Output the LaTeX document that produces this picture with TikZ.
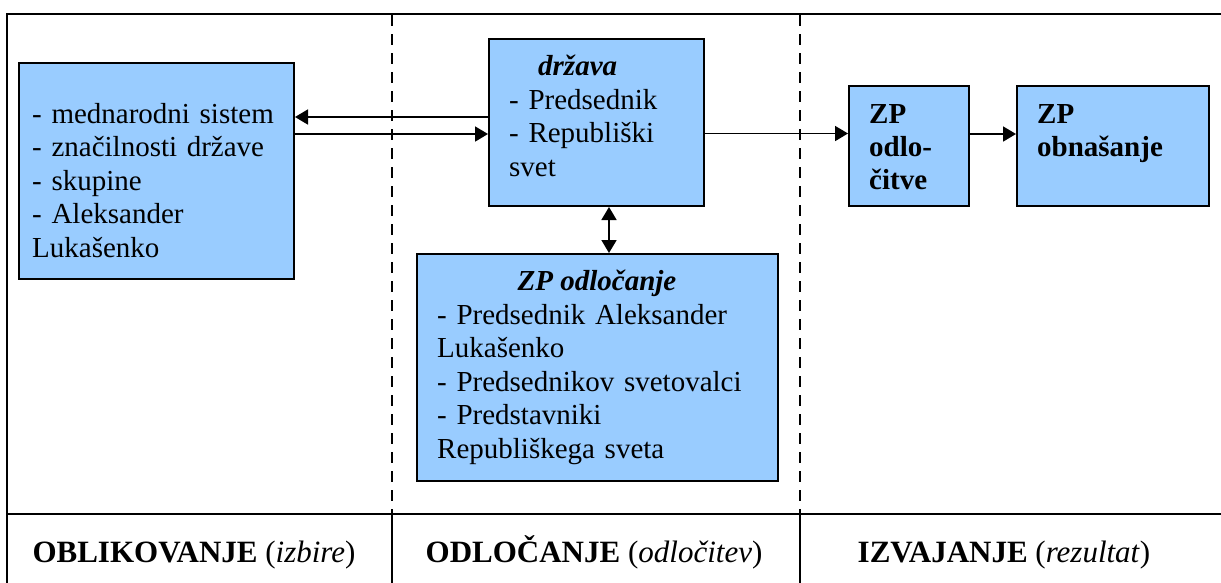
\documentclass[tikz,border=0pt]{standalone}
\usepackage{fontspec}
\setmainfont{Liberation Serif}
\usetikzlibrary{arrows.meta}
\definecolor{boxblue}{RGB}{153,204,255}
\begin{document}
\begin{tikzpicture}[x=1pt,y=-1pt,
  box/.style={draw=black, line width=2pt, fill=boxblue, inner sep=0pt, anchor=north west},
  txt/.style={anchor=base west, inner sep=0pt, align=left, text width=#1, font=\fontsize{29}{33.5}\selectfont},
  btxt/.style={anchor=base west, inner sep=0pt, align=left, text width=#1, font=\fontsize{29}{33}\selectfont\bfseries},
  lbl/.style={anchor=base, inner sep=0pt, font=\fontsize{31}{36}\selectfont},
  conn/.style={line width=1.8pt, -{Triangle[length=13pt,width=15pt]}},
  conn2/.style={line width=1.8pt, {Triangle[length=13pt,width=15pt]}-{Triangle[length=13pt,width=15pt]}},
  frame/.style={line width=2pt},
  dashline/.style={line width=2pt, dash pattern=on 11pt off 8pt}
]
\useasboundingbox (0,0) rectangle (1221,582);
\fill[white] (0,0) rectangle (1221,582);

% frame
\draw[frame] (1230,14) -- (7,14) -- (7,590);
\draw[frame] (7,514) -- (1230,514);
\draw[frame] (392,514) -- (392,590);
\draw[frame] (800,514) -- (800,590);
\draw[dashline] (392,15) -- (392,514);
\draw[dashline] (800,15) -- (800,514);

% boxes
\node[box, minimum width=275pt, minimum height=216pt] (levo) at (18,62) {};
\node[box, minimum width=215pt, minimum height=167pt] (drzava) at (488,38) {};
\node[box, minimum width=120pt, minimum height=120pt] (odl) at (848,85) {};
\node[box, minimum width=192pt, minimum height=120pt] (obn) at (1016,85) {};
\node[box, minimum width=361pt, minimum height=227pt] (odlocanje) at (416,253) {};

% texts
\node[txt=255pt] (levotxt) at (32,123) {- mednarodni sistem\\- značilnosti države\\- skupine\\- Aleksander\\Lukašenko};
\node[anchor=base west, inner sep=0pt, font=\fontsize{29}{33}\selectfont\bfseries\itshape] (drzavatit) at (538,75) {država};
\node[txt=190pt] (drzavatxt) at (509,109) {- Predsednik\\- Republiški\\svet};
\node[btxt=95pt] (odltxt) at (869,123) {ZP\\odlo-\\čitve};
\node[btxt=170pt] (obntxt) at (1037,123) {ZP\\obnašanje};
\node[anchor=base, inner sep=0pt, font=\fontsize{29}{33}\selectfont\bfseries\itshape] (odlocanjetit) at (597,290) {ZP odločanje};
\node[txt=335pt] (odlocanjetxt) at (437,324) {- Predsednik Aleksander\\Lukašenko\\- Predsednikov svetovalci\\- Predstavniki\\Republiškega sveta};

% bottom labels
\node[lbl] (l1) at (194,562) {\textbf{OBLIKOVANJE} (\textit{izbire})};
\node[lbl] (l2) at (594,562) {\textbf{ODLOČANJE} (\textit{odločitev})};
\node[lbl] (l3) at (1004,562) {\textbf{IZVAJANJE} (\textit{rezultat})};

% connectors
\draw[conn] ([yshift=5.5pt]drzava.west) -- ([yshift=5.5pt]drzava.west -| levo.east);
\draw[conn] ([yshift=-11.5pt]drzava.west -| levo.east) -- ([yshift=-11.5pt]drzava.west);
\draw[conn] ([yshift=-11pt]drzava.east) -- ([yshift=-11pt]drzava.east -| odl.west);
\draw[conn] ([yshift=12pt]odl.east) -- ([yshift=12pt]odl.east -| obn.west);
\draw[conn2] ([xshift=12.5pt]drzava.south) -- ([xshift=12.5pt]drzava.south |- odlocanje.north);
\end{tikzpicture}
\end{document}
